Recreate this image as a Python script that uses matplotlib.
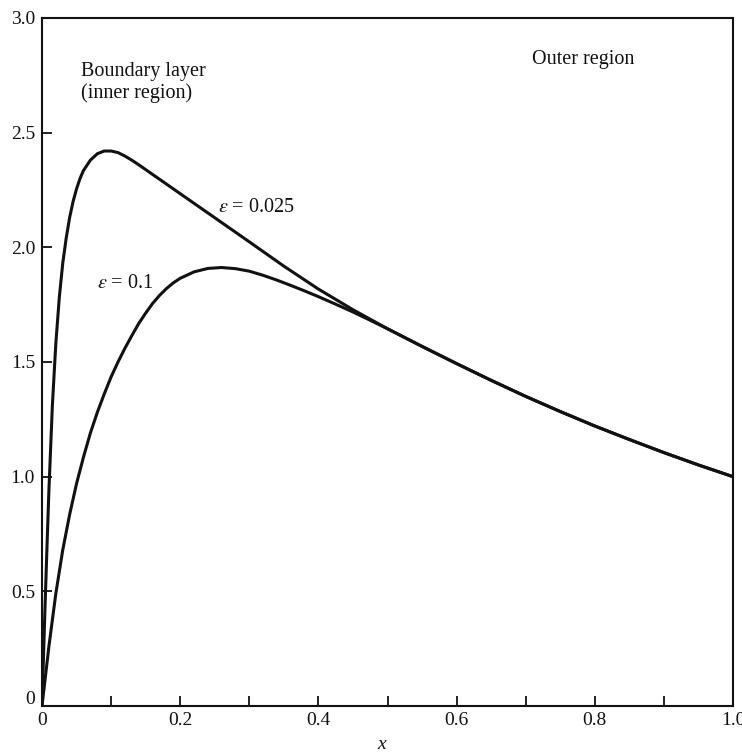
import matplotlib
matplotlib.use("Agg")
import matplotlib.pyplot as plt
from matplotlib.transforms import ScaledTranslation

plt.rcParams["font.family"] = ["Liberation Serif", "DejaVu Serif"]
plt.rcParams["mathtext.fontset"] = "stix"

# Solution curves y(x) for two values of epsilon
x_eps_small = [0.0, 0.0025, 0.005, 0.0075, 0.01, 0.015, 0.02, 0.025, 0.03, 0.035,
               0.04, 0.045, 0.05, 0.055, 0.06, 0.07, 0.08, 0.09, 0.10, 0.11,
               0.12, 0.13, 0.14, 0.16, 0.18, 0.20, 0.22, 0.24, 0.26, 0.28,
               0.30, 0.35, 0.40, 0.45, 0.50, 0.55, 0.60, 0.65, 0.70, 0.75,
               0.80, 0.85, 0.90, 0.95, 1.00]
y_eps_small = [0.0, 0.25, 0.49, 0.72, 0.94, 1.31, 1.58, 1.78, 1.93, 2.04,
               2.13, 2.20, 2.255, 2.30, 2.335, 2.38, 2.408, 2.42, 2.42, 2.413,
               2.398, 2.38, 2.36, 2.318, 2.276, 2.234, 2.192, 2.15, 2.108, 2.066,
               2.024, 1.918, 1.818, 1.728, 1.645, 1.568, 1.493, 1.42, 1.35, 1.284,
               1.221, 1.162, 1.105, 1.051, 1.00]

x_eps_large = [0.0, 0.005, 0.01, 0.02, 0.03, 0.04, 0.05, 0.06, 0.07, 0.08,
               0.09, 0.10, 0.11, 0.12, 0.13, 0.14, 0.15, 0.16, 0.17, 0.18,
               0.19, 0.20, 0.22, 0.24, 0.26, 0.28, 0.30, 0.32, 0.34, 0.36,
               0.38, 0.40, 0.425, 0.45, 0.475, 0.50, 0.55, 0.60, 0.65, 0.70,
               0.75, 0.80, 0.85, 0.90, 0.95, 1.00]
y_eps_large = [0.0, 0.13, 0.26, 0.49, 0.68, 0.835, 0.97, 1.085, 1.19, 1.28,
               1.36, 1.435, 1.50, 1.56, 1.615, 1.668, 1.713, 1.755, 1.79, 1.82,
               1.845, 1.865, 1.893, 1.908, 1.912, 1.907, 1.896, 1.878, 1.857, 1.834,
               1.81, 1.785, 1.752, 1.718, 1.682, 1.645, 1.568, 1.493, 1.42, 1.35,
               1.284, 1.221, 1.162, 1.105, 1.051, 1.00]

x_ticks = [0.1 * i for i in range(11)]
x_tick_labels = ["0", "", "0.2", "", "0.4", "", "0.6", "", "0.8", "", "1.0"]
y_ticks = [0.0, 0.5, 1.0, 1.5, 2.0, 2.5, 3.0]
y_tick_labels = ["0", "0.5", "1.0", "1.5", "2.0", "2.5", "3.0"]

fig = plt.figure(figsize=(7.42, 7.53), dpi=100)
ax = fig.add_axes([42 / 742, 47 / 753, 691 / 742, 688 / 753])

ink = "#111111"
for xs, ys in ((x_eps_small, y_eps_small), (x_eps_large, y_eps_large)):
    ax.plot(xs, ys, color=ink, lw=2.2, solid_joinstyle="round",
            solid_capstyle="round")

ax.set_xlim(0, 1.0)
ax.set_ylim(0, 3.0)
ax.set_xticks(x_ticks)
ax.set_xticklabels(x_tick_labels)
ax.set_yticks(y_ticks)
ax.set_yticklabels(y_tick_labels)
ax.tick_params(direction="in", length=7.5, width=1.3, colors=ink,
               labelsize=14, top=False, right=False)
ax.tick_params(axis="x", pad=4)
ax.tick_params(axis="y", pad=5)
for sp in ax.spines.values():
    sp.set_linewidth(1.5)
    sp.set_color(ink)

# lift the "0" on the vertical axis away from the corner
lbl0 = ax.get_yticklabels()[0]
lbl0.set_transform(lbl0.get_transform() + ScaledTranslation(0, 8 / 100, fig.dpi_scale_trans))

ax.text(0.056, 2.745, "Boundary layer", fontsize=14.5, color=ink, va="baseline")
ax.text(0.056, 2.65, "(inner region)", fontsize=14.5, color=ink, va="baseline")
ax.text(0.709, 2.80, "Outer region", fontsize=14.5, color=ink, va="baseline")
ax.text(0.254, 2.155, r"$\varepsilon$ = 0.025", fontsize=14.5, color=ink, va="baseline")
ax.text(0.080, 1.823, r"$\varepsilon$ = 0.1", fontsize=14.5, color=ink, va="baseline")

fig.text(381.7 / 742, 4 / 753, "x", fontsize=14, style="italic", color=ink,
         ha="center", va="baseline")

fig.savefig("out.png", dpi=100, facecolor="white")
